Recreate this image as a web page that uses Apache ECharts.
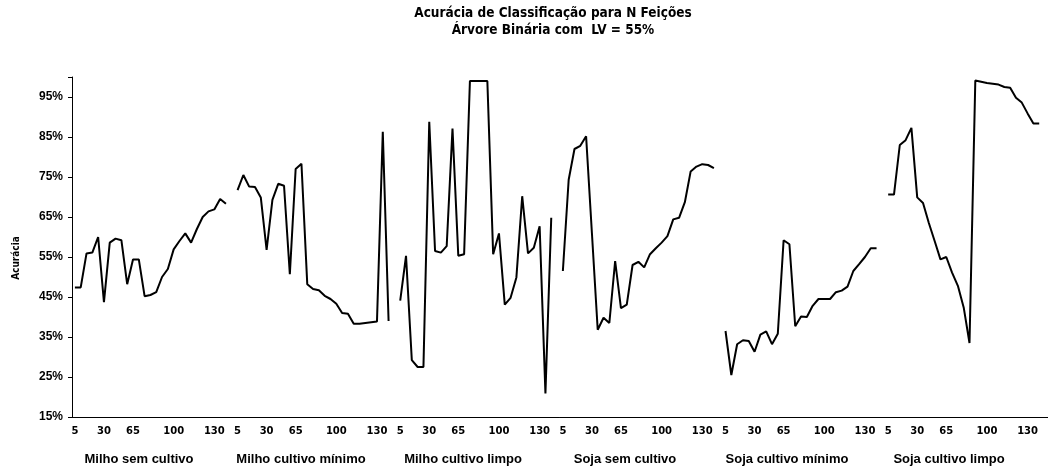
<!DOCTYPE html>
<html>
<head>
<meta charset="utf-8">
<script src="https://cdn.jsdelivr.net/npm/echarts@6/dist/echarts.min.js"></script>
<style>
  html, body { margin: 0; padding: 0; background: #fff; }
  #chart { width: 1048px; height: 471px; }
</style>
</head>
<body>
<div id="chart"></div>
<script>
// Treatment groups shown along the bottom of the chart
const groupNames = [
  'Milho sem cultivo', 'Milho cultivo mínimo', 'Milho cultivo limpo',
  'Soja sem cultivo', 'Soja cultivo mínimo', 'Soja cultivo limpo'
];

// Labels for the 28 feature-count slots of each group (blank = unlabeled tick)
const featureTickLabels = [
  '5', '', '', '', '', '30', '', '', '', '', '65', '', '', '', '',
  '', '', '100', '', '', '', '', '', '', '130', '', '', ''
];

// Classification accuracy (%) per number of features, one array per group
const milhoSemCultivo = [
  47.4, 47.4, 55.9, 56.1, 60.0, 43.7, 58.6, 59.6, 59.2, 48.2, 54.4, 54.4, 45.2, 45.5,
  46.2, 50.0, 52.0, 56.9, 59.0, 60.9, 58.6, 62.0, 65.0, 66.4, 66.9, 69.5, 68.3, null
];
const milhoCultivoMinimo = [
  71.7, 75.5, 72.6, 72.5, 69.9, 56.8, 69.3, 73.3, 72.8, 50.7, 77.0, 78.3, 48.2, 47.0,
  46.7, 45.3, 44.5, 43.3, 41.0, 40.8, 38.3, 38.3, 38.5, 38.7, 38.9, 86.3, 39.0, null
];
const milhoCultivoLimpo = [
  44.1, 55.3, 29.2, 27.5, 27.5, 88.8, 56.5, 56.1, 57.7, 87.1, 55.3, 55.7, 99.0, 99.0,
  99.0, 99.0, 55.7, 60.9, 43.1, 44.8, 49.9, 70.2, 55.9, 57.3, 62.7, 20.9, 64.8, null
];
const sojaSemCultivo = [
  51.5, 74.3, 82.0, 82.8, 85.2, 61.0, 36.8, 39.8, 38.5, 54.0, 42.2, 43.1, 53.0, 53.8,
  52.4, 55.7, 57.2, 58.6, 60.2, 64.4, 64.8, 68.7, 76.4, 77.6, 78.2, 78.0, 77.2, null
];
const sojaCultivoMinimo = [
  36.5, 25.5, 33.2, 34.2, 34.0, 31.3, 35.6, 36.4, 33.2, 35.8, 59.2, 58.2, 37.7, 40.1,
  40.0, 42.8, 44.5, 44.5, 44.5, 46.2, 46.6, 47.6, 51.5, 53.2, 55.0, 57.2, 57.2, null
];
const sojaCultivoLimpo = [
  70.6, 70.6, 83.0, 84.2, 87.3, 69.9, 68.5, 63.5, 59.0, 54.4, 55.0, 51.1, 47.8, 42.4,
  33.5, 99.1, 98.8, 98.5, 98.3, 98.1, 97.5, 97.3, 94.8, 93.6, 90.9, 88.4, 88.4, null
];

// All groups laid end to end on one category axis; nulls break the line
const seriesValues = [].concat(
  milhoSemCultivo, milhoCultivoMinimo, milhoCultivoLimpo,
  sojaSemCultivo, sojaCultivoMinimo, sojaCultivoLimpo
);
const slotIndex = seriesValues.map((_, i) => i);

const narrowFont = '"Liberation Sans Narrow", "DejaVu Sans Condensed", "Arial Narrow", sans-serif';
const boldFont = '"Liberation Sans", Arial, sans-serif';

const chart = echarts.init(document.getElementById('chart'), null, { renderer: 'canvas' });

chart.setOption({
  animation: false,
  backgroundColor: '#ffffff',
  title: {
    text: 'Acurácia de Classificação para N Feições\nÁrvore Binária com  LV = 55%',
    left: 548,
    top: 0,
    textAlign: 'center',
    textStyle: {
      fontFamily: narrowFont, fontWeight: 'bold', fontSize: 13.5, lineHeight: 17, color: '#000'
    }
  },
  grid: [
    { left: 72, top: 77, width: 982, bottom: 54 },
    { left: 58, top: 77, width: 972, bottom: 54 }
  ],
  xAxis: [
    {
      gridIndex: 0,
      type: 'category',
      data: slotIndex,
      boundaryGap: true,
      axisLine: { lineStyle: { color: '#000', width: 1 } },
      axisTick: { interval: 0, length: 4, lineStyle: { color: '#000' } },
      axisLabel: {
        interval: 0,
        margin: 9,
        formatter: (v, i) => featureTickLabels[i % featureTickLabels.length],
        fontFamily: '"DejaVu Sans", sans-serif',
        fontWeight: 'bold',
        fontSize: 10,
        color: '#000'
      },
      splitLine: { show: false }
    },
    {
      gridIndex: 1,
      type: 'category',
      data: groupNames,
      position: 'bottom',
      axisLine: { show: false },
      axisTick: { show: false },
      axisLabel: {
        interval: 0,
        margin: 36,
        fontFamily: boldFont,
        fontWeight: 'bold',
        fontSize: 13,
        color: '#000'
      },
      splitLine: { show: false }
    }
  ],
  yAxis: [
    {
      gridIndex: 0,
      type: 'value',
      min: 15,
      max: 100,
      interval: 10,
      axisLine: { show: true, lineStyle: { color: '#000', width: 1 } },
      axisTick: { show: true, length: 4, lineStyle: { color: '#000' } },
      axisLabel: {
        margin: 9,
        formatter: v => (v >= 100 ? '' : v + '%'),
        fontFamily: boldFont,
        fontWeight: 'bold',
        fontSize: 12,
        color: '#000'
      },
      splitLine: { show: false }
    },
    { gridIndex: 1, type: 'value', show: false }
  ],
  graphic: [
    {
      type: 'text',
      x: 16,
      y: 258,
      rotation: Math.PI / 2,
      style: {
        text: 'Acurácia',
        align: 'center',
        verticalAlign: 'middle',
        font: 'bold 10px ' + narrowFont,
        fill: '#000'
      }
    }
  ],
  series: [
    {
      type: 'line',
      xAxisIndex: 0,
      yAxisIndex: 0,
      data: seriesValues,
      symbol: 'none',
      connectNulls: false,
      lineStyle: { color: '#000', width: 2 },
      silent: true
    }
  ]
});
</script>
</body>
</html>
